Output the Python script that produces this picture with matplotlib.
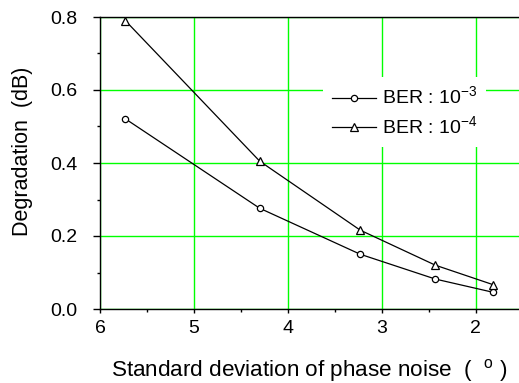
import matplotlib
matplotlib.use("Agg")
import matplotlib.pyplot as plt
from matplotlib.ticker import MultipleLocator

plt.rcParams['font.family'] = ['Liberation Sans', 'DejaVu Sans']
plt.rcParams['mathtext.fontset'] = 'custom'
plt.rcParams['mathtext.rm'] = 'Liberation Sans'

sigma = [5.73, 4.30, 3.23, 2.43, 1.82]
ber3 = [0.521, 0.276, 0.150, 0.082, 0.046]
ber4 = [0.790, 0.405, 0.216, 0.120, 0.067]
labels = [r'BER : 10$^{\mathregular{-3}}$', r'BER : 10$^{\mathregular{-4}}$']

fig = plt.figure(figsize=(5.19, 3.83), dpi=100)
ax = fig.add_axes([100/519, 1-309/383, 419/519, 292/383])

ax.plot(sigma, ber3, color='black', lw=0.9, marker='o', ms=4.5, mfc='white', mec='black', mew=0.9, label=labels[0], zorder=3)
ax.plot(sigma, ber4, color='black', lw=0.9, marker='^', ms=5.5, mfc='white', mec='black', mew=0.9, label=labels[1], zorder=3)

ax.set_xlim(6, 1.54)
ax.set_ylim(0, 0.8)
ax.xaxis.set_minor_locator(MultipleLocator(0.5))
ax.yaxis.set_minor_locator(MultipleLocator(0.1))
ax.set_xticks([6, 5, 4, 3, 2])
ax.set_xticklabels(['6', '5', '4', '3', '2'])
ax.set_yticks([0.0, 0.2, 0.4, 0.6, 0.8])
ax.set_yticklabels(['0.0', '0.2', '0.4', '0.6', '0.8'])
ax.grid(True, which='major', color='#00ff00', lw=1)
ax.set_axisbelow(True)
ax.tick_params(axis='y', which='major', direction='out', length=5, width=1, labelsize=14, pad=11)
ax.tick_params(axis='y', which='minor', direction='out', length=2.5, width=1)
ax.tick_params(axis='x', which='major', direction='out', length=3, width=1, labelsize=14, pad=5)
ax.tick_params(axis='x', which='minor', direction='out', length=2.5, width=1)
ax.spines['right'].set_visible(False)
for s in ['left', 'bottom', 'top']:
    ax.spines[s].set_linewidth(1)

ax.set_xlabel('Standard deviation of phase noise  (  $^{\\mathregular{o}}$ )', fontsize=16.2, labelpad=14)
ax.set_ylabel('Degradation  (dB)', fontsize=15.5)
ax.yaxis.set_label_coords((33 - 100) / 419, (309 - 151.5) / 292)

leg = ax.legend(loc='upper left', bbox_to_anchor=((323-100)/419, (309-77)/292), frameon=True, fontsize=14,
                handlelength=2.3, handletextpad=0.3, borderpad=0.45, labelspacing=0.35,
                borderaxespad=0)
leg.get_frame().set_edgecolor('none')
leg.get_frame().set_facecolor('white')
leg.get_frame().set_alpha(1)
leg.get_frame().set_boxstyle('square', pad=0)

fig.savefig('out.png', dpi=100)
